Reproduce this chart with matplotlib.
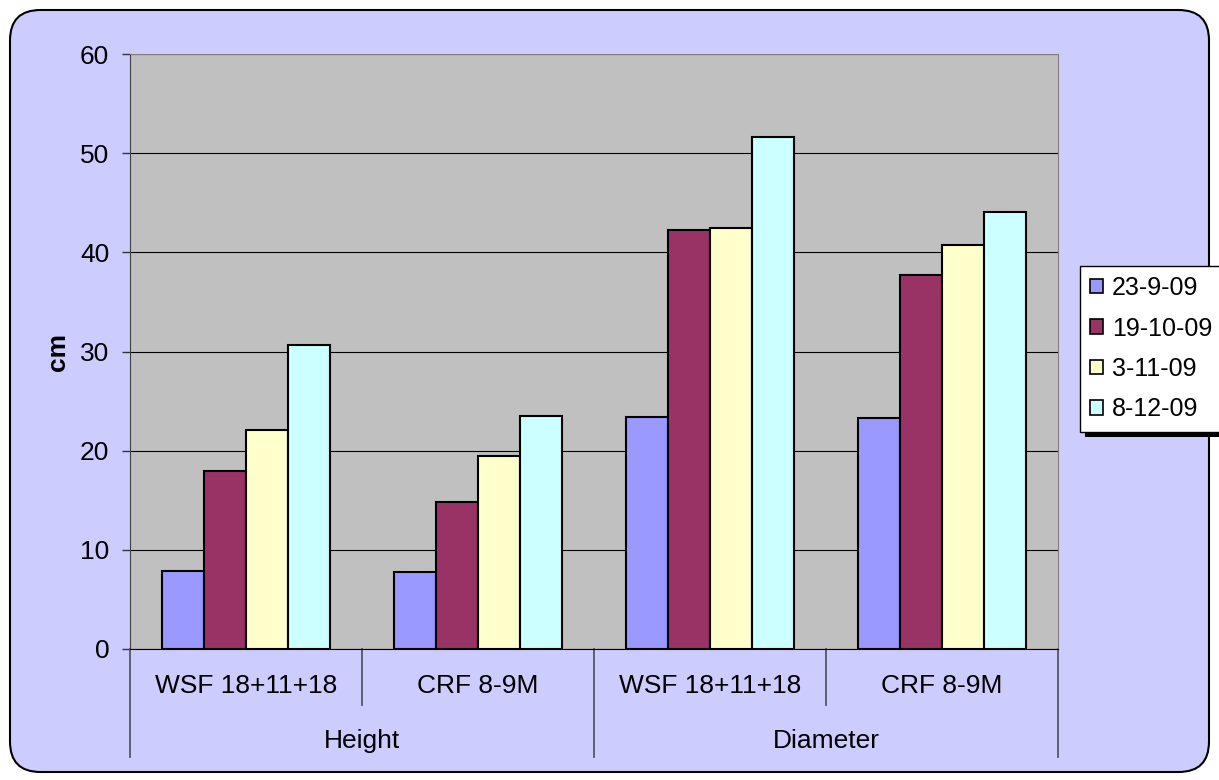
import matplotlib.pyplot as plt
from matplotlib.patches import FancyBboxPatch, Rectangle
import numpy as np

plt.rcParams['font.family'] = ['Liberation Sans', 'DejaVu Sans']

groups = ['Height', 'Diameter']
categories = ['WSF 18+11+18', 'CRF 8-9M', 'WSF 18+11+18', 'CRF 8-9M']
dates = ['23-9-09', '19-10-09', '3-11-09', '8-12-09']
values = {
    '23-9-09':  [7.9, 7.8, 23.4, 23.3],
    '19-10-09': [18.0, 14.8, 42.3, 37.7],
    '3-11-09':  [22.1, 19.5, 42.5, 40.7],
    '8-12-09':  [30.7, 23.5, 51.6, 44.1],
}
colors = ['#9999FF', '#993366', '#FFFFCC', '#CCFFFF']
fs = 19

fig = plt.figure(figsize=(12.19, 7.8), dpi=100)
fig.patch.set_facecolor('white')

# rounded chart area, behind the axes
bg = FancyBboxPatch((10/1219, 8/780), 1199/1219, 762/780,
                    boxstyle='round,pad=0,rounding_size=0.025',
                    transform=fig.transFigure, facecolor='#CCCCFF',
                    edgecolor='black', lw=1.5, mutation_aspect=1219/780,
                    zorder=-5)
fig.patches.append(bg)

ax = fig.add_axes([130/1219, (780-649)/780, (1058-130)/1219, (649-54)/780])
ax.set_zorder(1)
ax.set_facecolor('#C0C0C0')

x = np.arange(len(categories)) + 0.5
w = 0.181
for i, d in enumerate(dates):
    ax.bar(x + (i - 1.5) * w, values[d], w, color=colors[i],
           edgecolor='black', lw=1.5, label=d, zorder=3)

ax.set_xlim(0, 4)
ax.set_ylim(0, 60)
ax.set_yticks(range(0, 61, 10))
ax.yaxis.grid(True, color='black', lw=0.8, zorder=0)
ax.set_axisbelow(True)
ax.tick_params(axis='y', direction='out', length=6, width=1, colors='#333333',
               labelsize=fs, labelcolor='black', pad=9)
ax.set_xticks([])
for s in ['top', 'right']:
    ax.spines[s].set_color('#808080')
ax.spines['left'].set_color('#404040')
ax.spines['bottom'].set_color('black')
ax.spines['bottom'].set_zorder(4)
ax.set_ylabel('cm', fontsize=fs, fontweight='bold', labelpad=7)

tr = ax.get_xaxis_transform()
for xv in [1, 3]:
    ax.plot([xv, xv], [0, -0.094], transform=tr, color='#555566', lw=1.3, clip_on=False)
for xv in [0, 2, 4]:
    ax.plot([xv, xv], [0, -0.1815], transform=tr, color='#555566', lw=1.3, clip_on=False)
for xi, c in zip(x, categories):
    ax.text(xi, -0.062, c, transform=tr, ha='center', va='center', fontsize=fs)
for gi, g in enumerate(groups):
    ax.text(1 + 2 * gi, -0.155, g, transform=tr, ha='center', va='center', fontsize=fs)

leg = ax.legend(loc='upper left', bbox_to_anchor=(1080/1219, 1 - 266/780),
                bbox_transform=fig.transFigure, fontsize=18, frameon=True,
                fancybox=False, shadow=False, framealpha=1,
                handlelength=0.52, handleheight=0.52, handletextpad=0.35,
                labelspacing=0.66, borderpad=0.4, borderaxespad=0)
leg.get_frame().set_facecolor('white')
leg.get_frame().set_edgecolor('black')
leg.get_frame().set_linewidth(1)
for h in leg.legend_handles:
    h.set_linewidth(1.2)

# black drop shadow under the legend
fig.canvas.draw()
bb = leg.get_window_extent()
fig.patches.append(Rectangle((bb.x0 + 5, bb.y0 - 5), bb.width, bb.height,
                             transform=None, facecolor='black', lw=0, zorder=0.5))

fig.savefig('out.png', dpi=100)
